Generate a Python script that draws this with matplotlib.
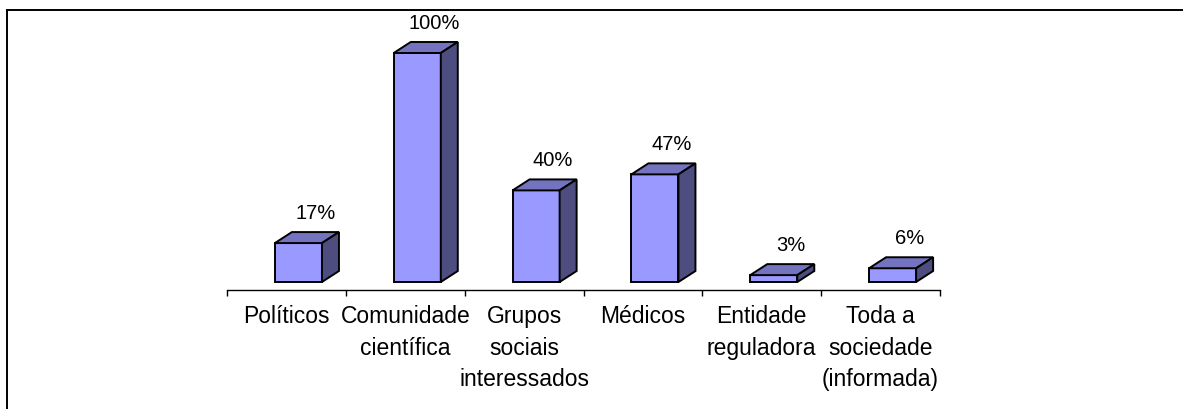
import matplotlib.pyplot as plt
from matplotlib.patches import Polygon, Rectangle

plt.rcParams['font.family'] = ['Liberation Sans', 'DejaVu Sans']

categorias = ['Políticos', 'Comunidade\ncientífica', 'Grupos\nsociais\ninteressados',
              'Médicos', 'Entidade\nreguladora', 'Toda a\nsociedade\n(informada)']
valores = [0.17, 1.00, 0.40, 0.47, 0.03, 0.06]
rotulos = ['17%', '100%', '40%', '47%', '3%', '6%']

cor_frente = '#9999ff'
cor_topo = '#7373c0'
cor_lado = '#4d4d80'

W, H = 1183, 410
fig = plt.figure(figsize=(W / 100, H / 100), dpi=100)

# moldura exterior (só aparecem os lados esquerdo e superior)
fig.patches.append(Rectangle((7 / W, -0.1), 1.2, (H - 11) / H + 0.1,
                             transform=fig.transFigure, fill=False,
                             edgecolor='black', linewidth=1.4))

ax = fig.add_axes([227 / W, (H - 291) / H, 713 / W, (291 - 20) / H])
ax.set_xlim(0, 6)
ax.set_ylim(-8 / 229, 263 / 229)

# profundidade do efeito 3D (em unidades de dados)
dx = 17 / 118.8
dy = 11 / 229
x0 = 0.403
larg = 0.396

for i, v in enumerate(valores):
    xl = i + x0
    xr = xl + larg
    frente = Polygon([(xl, 0), (xr, 0), (xr, v), (xl, v)], closed=True,
                     facecolor=cor_frente, edgecolor='black', lw=1.4, clip_on=False)
    topo = Polygon([(xl, v), (xr, v), (xr + dx, v + dy), (xl + dx, v + dy)], closed=True,
                   facecolor=cor_topo, edgecolor='black', lw=1.4, clip_on=False)
    lado = Polygon([(xr, 0), (xr + dx, dy), (xr + dx, v + dy), (xr, v)], closed=True,
                   facecolor=cor_lado, edgecolor='black', lw=1.4, clip_on=False)
    for p in (frente, topo, lado):
        ax.add_patch(p)
    ax.annotate(rotulos[i], (xl + larg / 2 + dx, v + dy), xytext=(0, 14),
                textcoords='offset points', ha='center', va='center',
                fontsize=14.5, color='black')

for s in ('left', 'right', 'top'):
    ax.spines[s].set_visible(False)
ax.spines['bottom'].set_linewidth(1)
ax.set_yticks([])
ax.set_xticks(range(7))
ax.set_xticklabels([])
ax.tick_params(axis='x', which='major', direction='out', length=4.5, width=1)
ax.set_xticks([i + 0.5 for i in range(6)], minor=True)
ax.set_xticklabels(categorias, minor=True, fontsize=16.5, linespacing=1.48)
ax.tick_params(axis='x', which='minor', length=0, pad=10)

fig.savefig('out.png', dpi=100)
